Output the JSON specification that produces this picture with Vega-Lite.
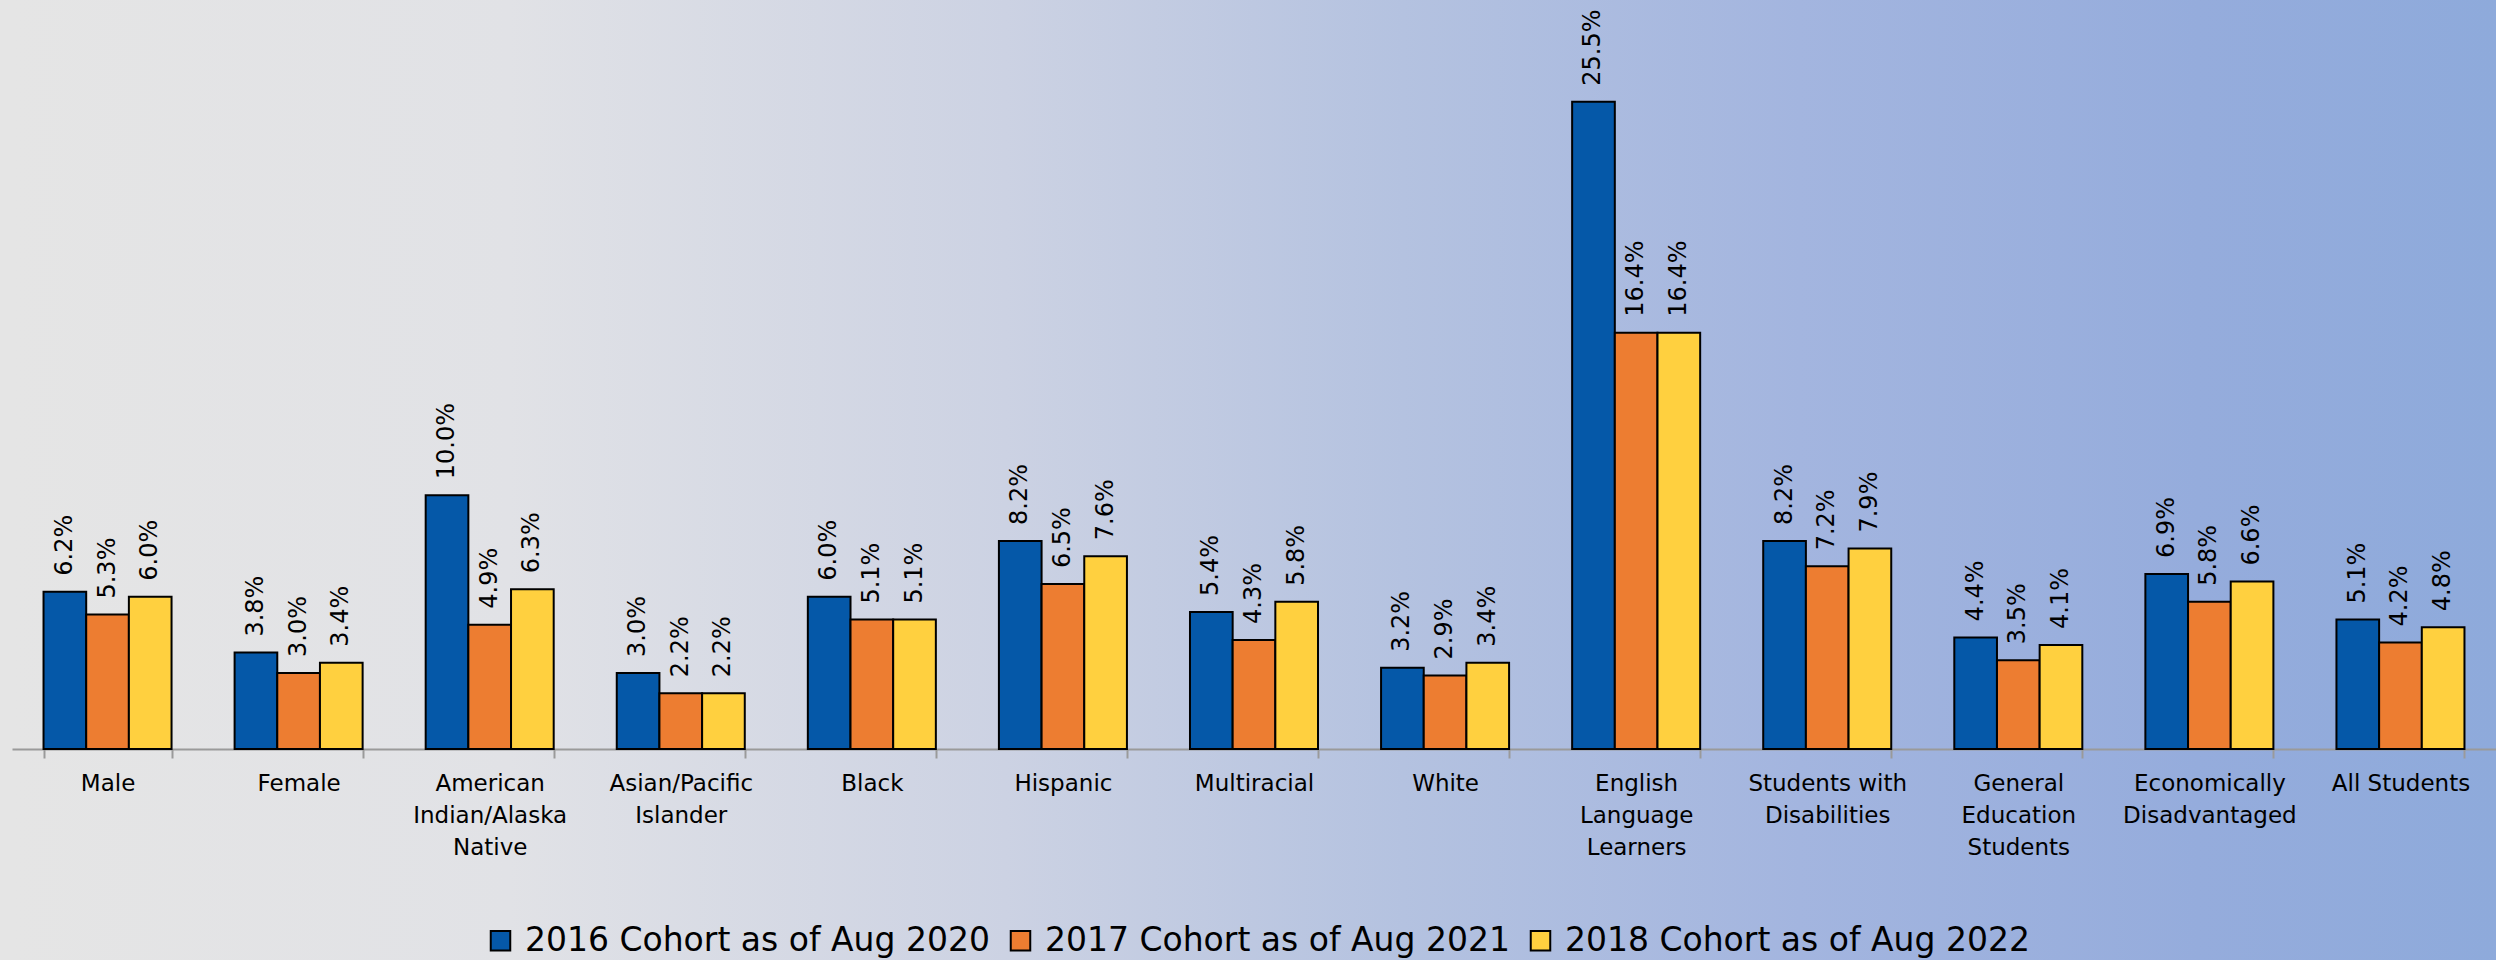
{
  "$schema": "https://vega.github.io/schema/vega-lite/v6.json",
  "width": 2484,
  "height": 960,
  "autosize": {"type": "none"},
  "padding": {"left": 12, "right": 0, "top": 0, "bottom": 0},
  "background": "#e5e5e5",
  "config": {
    "view": {
      "stroke": null,
      "fill": {
        "gradient": "linear",
        "x1": 0, "y1": 0, "x2": 1, "y2": 0,
        "stops": [
          {"offset": 0, "color": "#e5e5e5"},
          {"offset": 0.2, "color": "#e1e2e6"},
          {"offset": 0.4, "color": "#ccd2e3"},
          {"offset": 0.56, "color": "#b4c2e0"},
          {"offset": 0.72, "color": "#a3b5df"},
          {"offset": 0.88, "color": "#95acdc"},
          {"offset": 1, "color": "#8eaadb"}
        ]
      }
    },
    "font": "DejaVu Sans"
  },
  "data": {
    "values": [
      {"group": "Male", "cohort": "2016 Cohort as of Aug 2020", "rate": 0.062},
      {"group": "Male", "cohort": "2017 Cohort as of Aug 2021", "rate": 0.053},
      {"group": "Male", "cohort": "2018 Cohort as of Aug 2022", "rate": 0.060},
      {"group": "Female", "cohort": "2016 Cohort as of Aug 2020", "rate": 0.038},
      {"group": "Female", "cohort": "2017 Cohort as of Aug 2021", "rate": 0.030},
      {"group": "Female", "cohort": "2018 Cohort as of Aug 2022", "rate": 0.034},
      {"group": "American Indian/Alaska Native", "cohort": "2016 Cohort as of Aug 2020", "rate": 0.100},
      {"group": "American Indian/Alaska Native", "cohort": "2017 Cohort as of Aug 2021", "rate": 0.049},
      {"group": "American Indian/Alaska Native", "cohort": "2018 Cohort as of Aug 2022", "rate": 0.063},
      {"group": "Asian/Pacific Islander", "cohort": "2016 Cohort as of Aug 2020", "rate": 0.030},
      {"group": "Asian/Pacific Islander", "cohort": "2017 Cohort as of Aug 2021", "rate": 0.022},
      {"group": "Asian/Pacific Islander", "cohort": "2018 Cohort as of Aug 2022", "rate": 0.022},
      {"group": "Black", "cohort": "2016 Cohort as of Aug 2020", "rate": 0.060},
      {"group": "Black", "cohort": "2017 Cohort as of Aug 2021", "rate": 0.051},
      {"group": "Black", "cohort": "2018 Cohort as of Aug 2022", "rate": 0.051},
      {"group": "Hispanic", "cohort": "2016 Cohort as of Aug 2020", "rate": 0.082},
      {"group": "Hispanic", "cohort": "2017 Cohort as of Aug 2021", "rate": 0.065},
      {"group": "Hispanic", "cohort": "2018 Cohort as of Aug 2022", "rate": 0.076},
      {"group": "Multiracial", "cohort": "2016 Cohort as of Aug 2020", "rate": 0.054},
      {"group": "Multiracial", "cohort": "2017 Cohort as of Aug 2021", "rate": 0.043},
      {"group": "Multiracial", "cohort": "2018 Cohort as of Aug 2022", "rate": 0.058},
      {"group": "White", "cohort": "2016 Cohort as of Aug 2020", "rate": 0.032},
      {"group": "White", "cohort": "2017 Cohort as of Aug 2021", "rate": 0.029},
      {"group": "White", "cohort": "2018 Cohort as of Aug 2022", "rate": 0.034},
      {"group": "English Language Learners", "cohort": "2016 Cohort as of Aug 2020", "rate": 0.255},
      {"group": "English Language Learners", "cohort": "2017 Cohort as of Aug 2021", "rate": 0.164},
      {"group": "English Language Learners", "cohort": "2018 Cohort as of Aug 2022", "rate": 0.164},
      {"group": "Students with Disabilities", "cohort": "2016 Cohort as of Aug 2020", "rate": 0.082},
      {"group": "Students with Disabilities", "cohort": "2017 Cohort as of Aug 2021", "rate": 0.072},
      {"group": "Students with Disabilities", "cohort": "2018 Cohort as of Aug 2022", "rate": 0.079},
      {"group": "General Education Students", "cohort": "2016 Cohort as of Aug 2020", "rate": 0.044},
      {"group": "General Education Students", "cohort": "2017 Cohort as of Aug 2021", "rate": 0.035},
      {"group": "General Education Students", "cohort": "2018 Cohort as of Aug 2022", "rate": 0.041},
      {"group": "Economically Disadvantaged", "cohort": "2016 Cohort as of Aug 2020", "rate": 0.069},
      {"group": "Economically Disadvantaged", "cohort": "2017 Cohort as of Aug 2021", "rate": 0.058},
      {"group": "Economically Disadvantaged", "cohort": "2018 Cohort as of Aug 2022", "rate": 0.066},
      {"group": "All Students", "cohort": "2016 Cohort as of Aug 2020", "rate": 0.051},
      {"group": "All Students", "cohort": "2017 Cohort as of Aug 2021", "rate": 0.042},
      {"group": "All Students", "cohort": "2018 Cohort as of Aug 2022", "rate": 0.048}
    ]
  },
  "encoding": {
    "x": {
      "field": "group",
      "type": "nominal",
      "sort": null,
      "scale": {"paddingInner": 0.33, "paddingOuter": 0.165},
      "axis": {
        "title": null,
        "orient": "bottom",
        "offset": -211,
        "labelAngle": 0,
        "labelFont": "DejaVu Sans",
        "labelFontSize": 23,
        "labelColor": "#000000",
        "labelLineHeight": 32,
        "labelPadding": 14,
        "labelBaseline": "top",
        "tickBand": "extent",
        "tickSize": 9,
        "tickColor": "#9a9a9a",
        "tickWidth": 2,
        "domainColor": "#9a9a9a",
        "domainWidth": 2,
        "labelExpr": "datum.label == 'American Indian/Alaska Native' ? ['American', 'Indian/Alaska', 'Native'] : datum.label == 'Asian/Pacific Islander' ? ['Asian/Pacific', 'Islander'] : datum.label == 'English Language Learners' ? ['English', 'Language', 'Learners'] : datum.label == 'Students with Disabilities' ? ['Students with', 'Disabilities'] : datum.label == 'General Education Students' ? ['General', 'Education', 'Students'] : datum.label == 'Economically Disadvantaged' ? ['Economically', 'Disadvantaged'] : datum.label"
      }
    },
    "xOffset": {
      "field": "cohort",
      "type": "nominal",
      "scale": {"paddingInner": 0, "paddingOuter": 0}
    },
    "y": {
      "field": "rate",
      "type": "quantitative",
      "scale": {"domain": [-0.0831, 0.2951], "nice": false, "zero": false},
      "axis": null
    }
  },
  "layer": [
    {
      "mark": {"type": "bar", "stroke": "#000000", "strokeWidth": 2},
      "encoding": {
        "y2": {"datum": 0},
        "color": {
          "field": "cohort",
          "type": "nominal",
          "scale": {
            "domain": ["2016 Cohort as of Aug 2020", "2017 Cohort as of Aug 2021", "2018 Cohort as of Aug 2022"],
            "range": ["#0558a8", "#ed7d31", "#ffd03f"]
          },
          "legend": {
            "title": null,
            "orient": "none",
            "direction": "horizontal",
            "legendX": 472,
            "legendY": 924,
            "symbolType": "square",
            "symbolSize": 380,
            "symbolStrokeColor": "#000000",
            "symbolStrokeWidth": 2,
            "symbolOpacity": 1,
            "labelFont": "DejaVu Sans",
            "labelFontSize": 33,
            "labelColor": "#000000",
            "labelOffset": 8,
            "columnPadding": 14,
            "labelLimit": 0
          }
        }
      }
    },
    {
      "mark": {
        "type": "text",
        "angle": 270,
        "align": "left",
        "baseline": "middle",
        "dx": 16,
        "font": "DejaVu Sans",
        "fontSize": 24,
        "color": "#000000"
      },
      "encoding": {
        "text": {"field": "rate", "type": "quantitative", "format": ".1%"},
        "detail": {"field": "cohort"}
      }
    }
  ]
}
